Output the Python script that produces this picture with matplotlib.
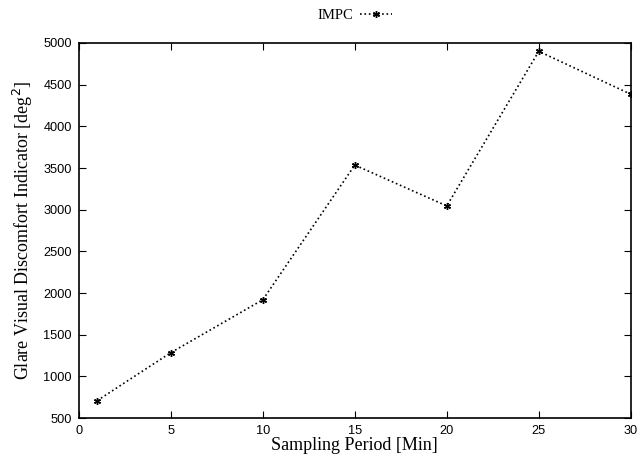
import matplotlib
matplotlib.use("Agg")
import matplotlib.pyplot as plt

period = [1, 5, 10, 15, 20, 25, 30]
impc = [710, 1285, 1920, 3535, 3045, 4900, 4385]

fig = plt.figure(figsize=(6.41, 4.62), dpi=100)
ax = fig.add_axes([0.123, 0.095, 0.861, 0.812])

ax.plot(period, impc, color='black', linestyle=':', linewidth=1.2,
        marker=(6, 2, 0), markersize=5, markeredgewidth=1.0, label='IMPC')

ax.set_xlim(0, 30)
ax.set_ylim(500, 5000)
ax.set_xticks([0, 5, 10, 15, 20, 25, 30])
ax.set_yticks(range(500, 5001, 500))
ax.tick_params(direction='in', top=True, right=True, length=5, labelsize=9.2, pad=5)
for lab in ax.get_xticklabels() + ax.get_yticklabels():
    lab.set_family('Liberation Sans')
for s in ax.spines.values():
    s.set_linewidth(1.2)

ax.set_xlabel('Sampling Period [Min]', family='Liberation Serif', fontsize=13, labelpad=0)
ax.set_ylabel('Glare Visual Discomfort Indicator [deg$^2$]', family='Liberation Serif', fontsize=13, labelpad=6)

leg = ax.legend(loc='upper center', bbox_to_anchor=(0.5, 1.125), frameon=False,
                markerfirst=False, prop={'family': 'Liberation Serif', 'size': 10.5},
                handlelength=2.2, handletextpad=0.4)

fig.savefig('out.png', dpi=100)
